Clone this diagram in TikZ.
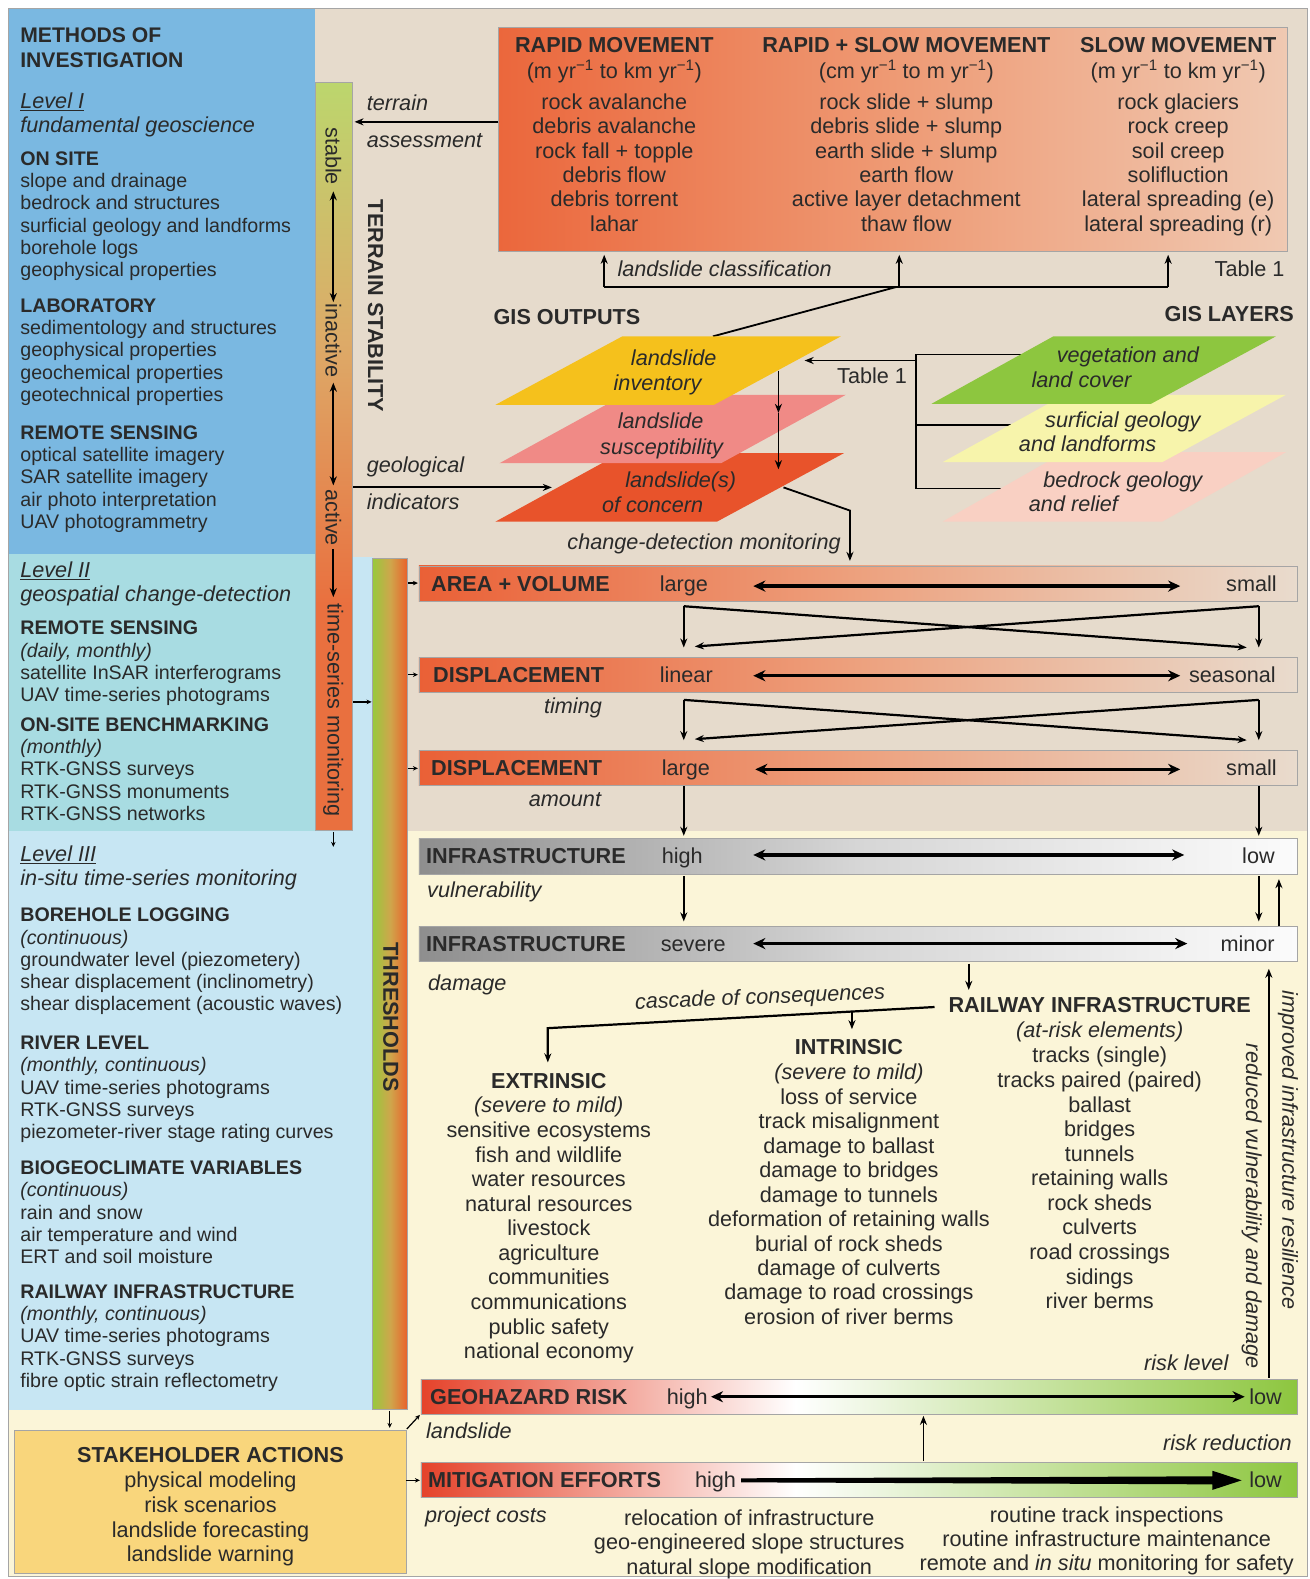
\documentclass[tikz,border=0pt]{standalone}
\usepackage{fontspec}
\setmainfont{Liberation Sans}
\usetikzlibrary{arrows.meta}

\definecolor{beige}{HTML}{E6DBCC}
\definecolor{paleyel}{HTML}{FBF5D8}
\definecolor{lvlone}{HTML}{7AB8E1}
\definecolor{lvltwo}{HTML}{A8DCE2}
\definecolor{lvlthree}{HTML}{C7E6F3}
\definecolor{stake}{HTML}{F9D67C}
\definecolor{ink}{HTML}{2A2A2A}
\definecolor{edge}{HTML}{A5A5A5}
\definecolor{tabL}{HTML}{EB673C}
\definecolor{tabM}{HTML}{EE9A74}
\definecolor{tabR}{HTML}{F0C9B2}
\definecolor{barL}{HTML}{EA6036}
\definecolor{barM}{HTML}{EDA17E}
\definecolor{barR}{HTML}{E9DBCD}
\definecolor{greyL}{HTML}{8E8E8E}
\definecolor{greyM}{HTML}{D6D6D6}
\definecolor{greyR}{HTML}{FBFBFB}
\definecolor{riskred}{HTML}{E5422A}
\definecolor{riskgreen}{HTML}{8DC63F}
\definecolor{invyel}{HTML}{F5C11C}
\definecolor{suspink}{HTML}{F08A86}
\definecolor{concern}{HTML}{E8532B}
\definecolor{veggreen}{HTML}{8DC63F}
\definecolor{surfyel}{HTML}{F7F4AB}
\definecolor{bedpink}{HTML}{F9D0C3}
\definecolor{tsgreen}{HTML}{BCD66D}
\definecolor{tsmid}{HTML}{DDAA68}
\definecolor{tsorange}{HTML}{E9703F}
\definecolor{thgreen}{HTML}{98C93D}
\definecolor{thmid}{HTML}{CFA64C}
\definecolor{thorange}{HTML}{EA5F29}

\newcommand\fsL{\fontsize{19.5}{22}\selectfont}
\newcommand\fsR{\fontsize{21.5}{24.4}\selectfont}
\newcommand\fsT{\fontsize{21}{25}\selectfont}
\newcommand\perYr{\textsuperscript{−1}}

% a bold heading followed by plain lines, left column
\newcommand\leftgroup[4]{%
  \node[lt, font=\fsL\bfseries] (#1-h) at (20,#2) {#3};
  \foreach \itm [count=\i] in {#4} {\node[lt] (#1-\i) at (20,{#2+22*\i}) {\itm};}
}
% centred list of lines
\newcommand\colgroup[5]{%
  \foreach \itm [count=\i] in {#5} {\node[rt] (#1-\i) at (#2,{#3+#4*(\i-1)}) {\itm};}
}

\begin{document}
\begin{tikzpicture}[x=1pt,y=-1pt,
  lt/.style={anchor=base west, inner sep=0pt, font=\fsL, text=ink},
  rt/.style={anchor=base, inner sep=0pt, font=\fsR, text=ink},
  rtw/.style={anchor=base west, inner sep=0pt, font=\fsR, text=ink},
  rte/.style={anchor=base east, inner sep=0pt, font=\fsR, text=ink},
  vt/.style={rotate=-90, inner sep=0pt, font=\fsR, text=ink},
  ln/.style={line width=1.8pt, draw=black},
  arr/.style={ln, -{Stealth[length=9pt,width=7pt]}},
  darr/.style={ln, {Stealth[length=9pt,width=7pt]}-{Stealth[length=9pt,width=7pt]}},
  tick/.style={line width=1.2pt, -{Stealth[length=5pt,width=4.5pt]}},
  rangearr/.style={line width=3.2pt, {Stealth[length=12pt,width=11pt]}-{Stealth[length=12pt,width=11pt]}},
  frame/.style={draw=edge, line width=0.8pt}
]
\useasboundingbox (0,0) rectangle (1300,1568);
\fill[white] (0,0) rectangle (1300,1568);

% ---------- background panels ----------
\filldraw[fill=beige, draw=edge, line width=1pt] (8.5,8.5) rectangle (1298.5,1565.5);
\fill[paleyel] (405,825) rectangle (1298,1565);
\fill[paleyel] (9,1400) rectangle (405,1565);
\fill[lvlone] (9,9) rectangle (313,550);
\fill[lvlthree] (9,553) rectangle (370,1400);
\fill[lvltwo] (9,550) rectangle (313,825);

% terrain stability bar
\shade[top color=tsgreen, bottom color=tsorange, middle color=tsmid] (313,82) rectangle (350,600);
\fill[tsorange] (313,600) rectangle (350,825);
\draw[frame] (313,82) rectangle (350,825);
% thresholds bar
\shade[left color=thgreen, right color=thorange, middle color=thmid] (370,555) rectangle (405,1400);
\draw[frame] (370,555) rectangle (405,1400);

% ---------- methods of investigation ----------
\node[lt, font=\fsT\bfseries] (mtitle1) at (20,42.5) {METHODS OF};
\node[lt, font=\fsT\bfseries] (mtitle2) at (20,67.5) {INVESTIGATION};
\node[lt, font=\fsR\itshape] (lvlI) at (20,107.5) {\underline{Level I}};
\node[lt, font=\fsR\itshape] (lvlIdesc) at (20,131.5) {fundamental geoscience};
\leftgroup{onsite}{164.5}{ON SITE}{slope and drainage, bedrock and structures, surficial geology and landforms, borehole logs, geophysical properties}
\leftgroup{lab}{310.5}{LABORATORY}{sedimentology and structures, geophysical properties, geochemical properties, geotechnical properties}
\leftgroup{rsone}{436.5}{REMOTE SENSING}{optical satellite imagery, SAR satellite imagery, air photo interpretation, UAV photogrammetry}

\node[lt, font=\fsR\itshape] (lvlII) at (20,573.5) {\underline{Level II}};
\node[lt, font=\fsR\itshape] (lvlIIdesc) at (20,597.5) {geospatial change-detection};
\leftgroup{rstwo}{630.5}{REMOTE SENSING}{\textit{(daily, monthly)}, satellite InSAR interferograms, UAV time-series photograms}
\leftgroup{bench}{726.5}{ON-SITE BENCHMARKING}{\textit{(monthly)}, RTK-GNSS surveys, RTK-GNSS monuments, RTK-GNSS networks}

\node[lt, font=\fsR\itshape] (lvlIII) at (20,855.5) {\underline{Level III}};
\node[lt, font=\fsR\itshape] (lvlIIIdesc) at (20,879.5) {in-situ time-series monitoring};
\leftgroup{bore}{915.5}{BOREHOLE LOGGING}{\textit{(continuous)}, groundwater level (piezometery), shear displacement (inclinometry), shear displacement (acoustic waves)}
\leftgroup{river}{1042.5}{RIVER LEVEL}{\textit{(monthly, continuous)}, UAV time-series photograms, RTK-GNSS surveys, piezometer-river stage rating curves}
\leftgroup{bio}{1166.5}{BIOGEOCLIMATE VARIABLES}{\textit{(continuous)}, rain and snow, air temperature and wind, ERT and soil moisture}
\leftgroup{rail}{1289.5}{RAILWAY INFRASTRUCTURE}{\textit{(monthly, continuous)}, UAV time-series photograms, RTK-GNSS surveys, fibre optic strain reflectometry}

% terrain stability scale
\node[vt] (stable) at (331,155) {stable};
\node[vt] (inactive) at (331,338) {inactive};
\node[vt] (active) at (331,514) {active};
\node[vt] (tsmon) at (331,705) {time-series monitoring};
\node[vt, font=\fsR\bfseries] (tstab) at (373,304) {TERRAIN STABILITY};
\node[vt, font=\fsR\bfseries] (thresh) at (388,1010) {THRESHOLDS};
\coordinate (s1) at (331,190); \coordinate (s2) at (331,300);
\coordinate (s3) at (331,380); \coordinate (s4) at (331,482);
\coordinate (s5) at (331,545); \coordinate (s6) at (331,593);
\coordinate (s7) at (331,826); \coordinate (s8) at (331,841);
\draw[darr] (s1) -- (s2);
\draw[darr] (s3) -- (s4);
\draw[arr] (s5) -- (s6);
\draw[tick] (s7) -- (s8);

% stakeholder box
\node[draw=edge, fill=stake, line width=0.8pt, minimum width=389pt, minimum height=142pt, anchor=north west, inner sep=0pt] (stake) at (14,1420) {};
\node[rt, font=\fsR\bfseries] (stakeh) at (209,1452.5) {STAKEHOLDER ACTIONS};
\colgroup{stk}{209}{1477.5}{24.4}{physical modeling, risk scenarios, landslide forecasting, landslide warning}

% ---------- landslide classification table ----------
\shade[left color=tabL, right color=tabR, middle color=tabM] (495,27) rectangle (1278,250);
\draw[frame] (495,27) rectangle (1278,250);
\node[rt, font=\fsR\bfseries] (rapidh) at (610,52.5) {RAPID MOVEMENT};
\node[rt, font=\fsR\bfseries] (bothh) at (900,52.5) {RAPID + SLOW MOVEMENT};
\node[rt, font=\fsR\bfseries] (slowh) at (1170,52.5) {SLOW MOVEMENT};
\node[rt] (rapidu) at (610,77.5) {(m yr\perYr{} to km yr\perYr)};
\node[rt] (bothu) at (900,77.5) {(cm yr\perYr{} to m yr\perYr)};
\node[rt] (slowu) at (1170,77.5) {(m yr\perYr{} to km yr\perYr)};
\colgroup{rapid}{610}{108.5}{24.2}{rock avalanche, debris avalanche, rock fall + topple, debris flow, debris torrent, lahar}
\colgroup{both}{900}{108.5}{24.2}{rock slide + slump, debris slide + slump, earth slide + slump, earth flow, active layer detachment, thaw flow}
\colgroup{slow}{1170}{108.5}{24.2}{rock glaciers, rock creep, soil creep, solifluction, lateral spreading (e), lateral spreading (r)}

\node[rtw, font=\fsR\itshape] (terr1) at (364,109.5) {terrain};
\node[rtw, font=\fsR\itshape] (terr2) at (364,146.5) {assessment};
\coordinate (ta1) at (495,121); \coordinate (ta2) at (352,121);
\draw[arr] (ta1) -- (ta2);

\node[rtw, font=\fsR\itshape] (lclass) at (613,274.5) {landslide classification};
\node[rtw] (tab1a) at (1206,274.5) {Table 1};
\coordinate (lc1) at (600,285); \coordinate (lc2) at (893,285); \coordinate (lc3) at (1160,285);
\coordinate (lc1t) at (600,253); \coordinate (lc2t) at (893,253); \coordinate (lc3t) at (1160,253);
\coordinate (lcj) at (890,285); \coordinate (invtop) at (708,334);
\draw[ln] (lc1) -- (lc3);
\draw[arr] (lc1) -- (lc1t);
\draw[arr] (lc2) -- (lc2t);
\draw[arr] (lc3) -- (lc3t);
\draw[ln] (lcj) -- (invtop);

% ---------- GIS ----------
\node[rtw, font=\fsR\bfseries] (gisout) at (490,322.5) {GIS OUTPUTS};
\node[rte, font=\fsR\bfseries] (gislay) at (1285,319.5) {GIS LAYERS};

\coordinate (gv) at (910,352); \coordinate (gvb) at (910,485);
\coordinate (gveg) at (1050,352); \coordinate (gsu) at (910,422); \coordinate (gsue) at (1006,422);
\coordinate (gbe) at (1001,485); \coordinate (gt1) at (910,358); \coordinate (gt2) at (799,358);
\draw[ln] (gveg) -- (gv) -- (gvb) -- (gbe);
\draw[ln] (gsu) -- (gsue);
\draw[arr] (gt1) -- (gt2);
\node[rt] (tab1b) at (866,380.5) {Table 1};

% layers
\fill[bedpink] (1057,449) -- (1277,449) -- (1154,518) -- (936,518) -- cycle;
\fill[surfyel] (1057,392) -- (1277,392) -- (1154,459) -- (936,459) -- cycle;
\fill[veggreen] (1046,334) -- (1267,334) -- (1143,401) -- (925,401) -- cycle;
\node[rt, font=\fsR\itshape] (veg1) at (1120,359.5) {vegetation and};
\node[rt, font=\fsR\itshape] (veg2) at (1074,384.5) {land cover};
\node[rt, font=\fsR\itshape] (sur1) at (1115,424.5) {surficial geology};
\node[rt, font=\fsR\itshape] (sur2) at (1080,448.5) {and landforms};
\node[rt, font=\fsR\itshape] (bed1) at (1115,484.5) {bedrock geology};
\node[rt, font=\fsR\itshape] (bed2) at (1066,507.5) {and relief};

% outputs
\fill[concern] (616,450) -- (838,450) -- (712,518) -- (492,518) -- cycle;
\fill[suspink] (620,392) -- (840,392) -- (716,460) -- (496,460) -- cycle;
\fill[invyel] (618,334) -- (835,334) -- (709,402) -- (492,402) -- cycle;
\node[rt, font=\fsR\itshape] (inv1) at (669,362.5) {landslide};
\node[rt, font=\fsR\itshape] (inv2) at (653,387.5) {inventory};
\node[rt, font=\fsR\itshape] (sus1) at (656,425.5) {landslide};
\node[rt, font=\fsR\itshape] (sus2) at (657,451.5) {susceptibility};
\node[rt, font=\fsR\itshape] (con1) at (676,484.5) {landslide(s)};
\node[rt, font=\fsR\itshape] (con2) at (648,508.5) {of concern};

\coordinate (io1) at (773,368); \coordinate (io2) at (773,410); \coordinate (io3) at (773,466);
\draw[arr] (io1) -- (io2);
\draw[arr] (io2) -- (io3);

\node[rtw, font=\fsR\itshape] (geo1) at (364,469.5) {geological};
\node[rtw, font=\fsR\itshape] (geo2) at (364,505.5) {indicators};
\coordinate (gi1) at (351,484); \coordinate (gi2) at (548,484);
\draw[arr] (gi1) -- (gi2);

\node[rte, font=\fsR\itshape] (cdm) at (835,545.5) {change-detection monitoring};
\coordinate (cd1) at (778,484); \coordinate (cd2) at (844,507); \coordinate (cd3) at (844,557);
\draw[arr] (cd1) -- (cd2) -- (cd3);

% ---------- change-detection bars ----------
\foreach \yt in {562,653,745} {
  \shade[left color=barL, right color=barR, middle color=barM] (416,\yt) rectangle (1288,\yt+35);
  \draw[frame] (416,\yt) rectangle (1288,\yt+35);
}
\node[rtw, font=\fsR\bfseries] (avh) at (428,587.5) {AREA + VOLUME};
\node[rtw] (avl) at (655,587.5) {large};
\node[rte] (avr) at (1268,587.5) {small};
\node[rtw, font=\fsR\bfseries] (dth) at (430,678) {DISPLACEMENT};
\node[rtw] (dtl) at (655,678) {linear};
\node[rte] (dtr) at (1267,678) {seasonal};
\node[rtw, font=\fsR\bfseries] (dah) at (428,770) {DISPLACEMENT};
\node[rtw] (dal) at (657,770) {large};
\node[rte] (dar) at (1268,770) {small};
\node[rt, font=\fsR\itshape] (timing) at (569,708.5) {timing};
\node[rt, font=\fsR\itshape] (amount) at (561,800.5) {amount};

\coordinate (r1a) at (748,582); \coordinate (r1b) at (1172,582);
\coordinate (r2a) at (748,671); \coordinate (r2b) at (1172,671);
\coordinate (r3a) at (750,764); \coordinate (r3b) at (1172,764);
\draw[rangearr] (r1a) -- (r1b);
\draw[rangearr] (r2a) -- (r2b);
\draw[rangearr] (r3a) -- (r3b);

% crossing links between bars
\foreach \ya/\yb [count=\k] in {602/643, 695/735} {
  \coordinate (xl\k) at (679,\ya); \coordinate (xr\k) at (1250,\ya);
  \coordinate (xlb\k) at (679,\yb); \coordinate (xrb\k) at (1250,\yb);
  \coordinate (xld\k) at (690,\yb-1); \coordinate (xrd\k) at (1238,\yb);
  \draw[arr] (xl\k) -- (xlb\k);
  \draw[arr] (xr\k) -- (xrb\k);
  \draw[arr, line width=2.2pt] (xl\k) -- (xrd\k);
  \draw[arr, line width=2.2pt] (xr\k) -- (xld\k);
}
\coordinate (da1) at (679,781); \coordinate (da2) at (679,830);
\coordinate (da3) at (1250,781); \coordinate (da4) at (1250,830);
\draw[arr] (da1) -- (da2);
\draw[arr] (da3) -- (da4);

% thresholds feed the bars
\foreach \yy [count=\k] in {579,670,763} {
  \coordinate (tha\k) at (405,\yy); \coordinate (thb\k) at (415,\yy);
  \draw[tick] (tha\k) -- (thb\k);
}
\coordinate (tm1) at (351,697); \coordinate (tm2) at (369,697);
\draw[tick] (tm1) -- (tm2);

% ---------- infrastructure bars ----------
\foreach \yt in {833,920} {
  \shade[left color=greyL, right color=greyR, middle color=greyM] (416,\yt) rectangle (1288,\yt+35);
  \draw[frame] (416,\yt) rectangle (1288,\yt+35);
}
\node[rtw, font=\fsR\bfseries] (ivh) at (423,857.5) {INFRASTRUCTURE};
\node[rtw] (ivl) at (657,857.5) {high};
\node[rte] (ivr) at (1266,857.5) {low};
\node[rtw, font=\fsR\bfseries] (idh) at (423,944.5) {INFRASTRUCTURE};
\node[rtw] (idl) at (656,944.5) {severe};
\node[rte] (idr) at (1266,944.5) {minor};
\node[rtw, font=\fsR\itshape] (vuln) at (424,891.5) {vulnerability};
\node[rtw, font=\fsR\itshape] (dmg) at (425,983.5) {damage};
\coordinate (r4a) at (748,849); \coordinate (r4b) at (1176,849);
\coordinate (r5a) at (748,937); \coordinate (r5b) at (1179,937);
\draw[rangearr] (r4a) -- (r4b);
\draw[rangearr] (r5a) -- (r5b);

\coordinate (iv1) at (679,870); \coordinate (iv2) at (679,915);
\coordinate (iv3) at (1250,870); \coordinate (iv4) at (1250,915);
\coordinate (iv5) at (1270,920); \coordinate (iv6) at (1270,873);
\draw[arr] (iv1) -- (iv2);
\draw[arr] (iv3) -- (iv4);
\draw[arr] (iv5) -- (iv6);
\coordinate (id1) at (962,957); \coordinate (id2) at (962,983);
\draw[arr] (id1) -- (id2);

% ---------- cascade of consequences ----------
\node[rt, font=\fsR\itshape, rotate=2.5] (cascade) at (755,997) {cascade of consequences};
\node[rt, font=\fsR\bfseries] (railh) at (1092,1005.5) {RAILWAY INFRASTRUCTURE};
\coordinate (cc1) at (928,1000); \coordinate (cc2) at (544,1021); \coordinate (cc3) at (544,1055);
\coordinate (cc4) at (846,1004.5); \coordinate (cc5) at (846,1022);
\draw[arr, line width=2.2pt] (cc1) -- (cc2) -- (cc3);
\draw[arr] (cc4) -- (cc5);

\node[rt, font=\fsR\bfseries] (extr) at (545,1080.5) {EXTRINSIC};
\node[rt, font=\fsR\itshape] (extrs) at (545,1104.5) {(severe to mild)};
\colgroup{ext}{545}{1129.5}{24.4}{sensitive ecosystems, fish and wildlife, water resources, natural resources, livestock, agriculture, communities, communications, public safety, national economy}
\node[rt, font=\fsR\bfseries] (intr) at (843,1047.5) {INTRINSIC};
\node[rt, font=\fsR\itshape] (intrs) at (843,1071.5) {(severe to mild)};
\colgroup{int}{843}{1096.5}{24.3}{loss of service, track misalignment, damage to ballast, damage to bridges, damage to tunnels, deformation of retaining walls, burial of rock sheds, damage of culverts, damage to road crossings, erosion of river berms}
\node[rt, font=\fsR\itshape] (railsub) at (1092,1030.5) {(at-risk elements)};
\colgroup{rl}{1092}{1055.5}{24.4}{tracks (single), tracks paired (paired), ballast, bridges, tunnels, retaining walls, rock sheds, culverts, road crossings, sidings, river berms}

\node[vt, font=\fsR\itshape] (resil) at (1279,1142) {improved infrastructure resilience};
\node[vt, font=\fsR\itshape] (reduce) at (1243,1198) {reduced vulnerability and damage};
\node[rte, font=\fsR\itshape] (risklev) at (1220,1360.5) {risk level};
\coordinate (up1) at (1260,1368); \coordinate (up2) at (1260,962);
\draw[arr] (up1) -- (up2);

% ---------- risk and mitigation ----------
\foreach \yt in {1370,1452} {
  \shade[left color=riskred, right color=white] (418,\yt) rectangle (790,\yt+35);
  \shade[left color=white, right color=riskgreen] (790,\yt) rectangle (1288,\yt+35);
  \draw[frame] (418,\yt) rectangle (1288,\yt+35);
}
\node[rtw, font=\fsR\bfseries] (geoh) at (427,1395) {GEOHAZARD RISK};
\node[rtw] (geol) at (662,1395) {high};
\node[rte] (geor) at (1273,1395) {low};
\coordinate (r6a) at (706,1387); \coordinate (r6b) at (1236,1387);
\draw[rangearr, line width=2.6pt] (r6a) -- (r6b);

\node[rtw, font=\fsR\bfseries] (mith) at (425,1477.5) {MITIGATION EFFORTS};
\node[rtw] (mitl) at (690,1477.5) {high};
\node[rte] (mitr) at (1273,1477.5) {low};
% tapering effort arrow
\fill[black] (736,1468) -- (1204,1466) -- (1204,1460.5) -- (1233,1470) -- (1204,1479.5) -- (1204,1474) -- (736,1472) -- cycle;

\node[rtw, font=\fsR\itshape] (lsl) at (423,1428.5) {landslide};
\node[rte, font=\fsR\itshape] (rred) at (1283,1440.5) {risk reduction};
\node[rtw, font=\fsR\itshape] (pcost) at (422,1511.5) {project costs};
\coordinate (rr1) at (917,1451); \coordinate (rr2) at (917,1406);
\draw[arr] (rr1) -- (rr2);

\colgroup{mitA}{744}{1514.5}{24.5}{relocation of infrastructure, geo-engineered slope structures, natural slope modification}
\node[rt] (mitB1) at (1099,1511.5) {routine track inspections};
\node[rt] (mitB2) at (1099,1535.5) {routine infrastructure maintenance};
\node[rt] (mitB3) at (1099,1560) {remote and \textit{in situ} monitoring for safety};

% links around the stakeholder box
\coordinate (st1) at (387,1401); \coordinate (st2) at (387,1418);
\coordinate (st3) at (404,1419); \coordinate (st4) at (417,1405);
\coordinate (st5) at (403,1470); \coordinate (st6) at (417,1470);
\draw[tick] (st1) -- (st2);
\draw[tick] (st3) -- (st4);
\draw[tick] (st5) -- (st6);
\end{tikzpicture}
\end{document}
